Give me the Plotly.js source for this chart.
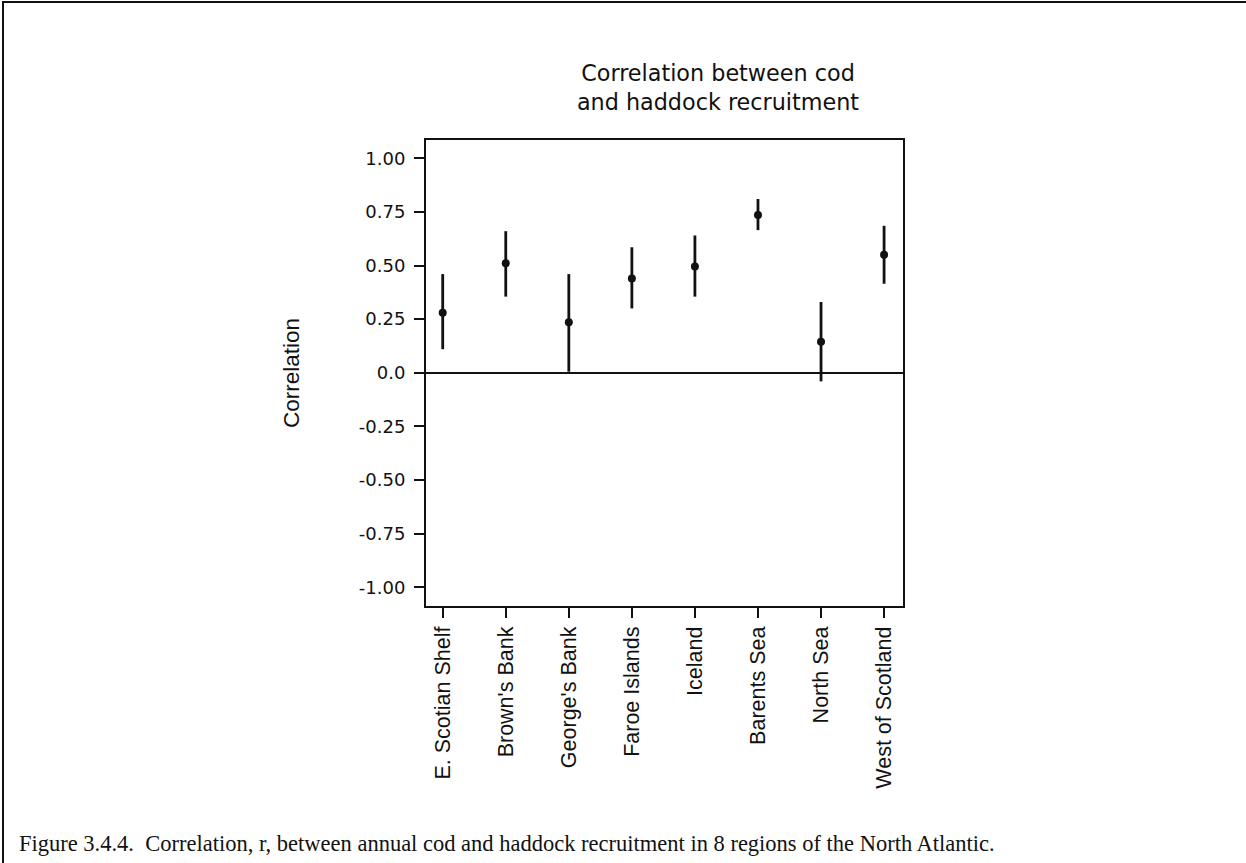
<!DOCTYPE html>
<html>
<head>
<meta charset="utf-8">
<script src="https://cdn.plot.ly/plotly-3.0.1.min.js"></script>
<style>
  html, body { margin: 0; padding: 0; background: #fff; }
  #wrap { position: relative; width: 1246px; height: 863px; }
  #chart { width: 1246px; height: 863px; }
  #frame { position: absolute; left: 2px; top: 1px; width: 1250px; height: 870px;
           border-top: 2px solid #111; border-left: 2px solid #111; pointer-events: none; }
</style>
</head>
<body>
<div id="wrap">
  <div id="chart"></div>
  <div id="frame"></div>
</div>
<script>
// Regions (categories)
const regions = ["E. Scotian Shelf", "Brown's Bank", "George's Bank", "Faroe Islands",
                 "Iceland", "Barents Sea", "North Sea", "West of Scotland"];
// Correlation r (point estimate)
const rValues = [0.28, 0.51, 0.235, 0.44, 0.495, 0.735, 0.145, 0.55];
// Upper and lower ends of the interval bars
const upperValues = [0.46, 0.66, 0.46, 0.585, 0.64, 0.81, 0.33, 0.685];
const lowerValues = [0.11, 0.355, 0.005, 0.30, 0.355, 0.665, -0.04, 0.415];
// Y tick labels
const yTickVals = [1.0, 0.75, 0.5, 0.25, 0.0, -0.25, -0.5, -0.75, -1.0];
const yTickText = ["1.00", "0.75", "0.50", "0.25", "0.0", "-0.25", "-0.50", "-0.75", "-1.00"];

const titleText = "Correlation between cod<br>and haddock recruitment";
const yTitleText = "Correlation";
const captionText = "Figure 3.4.4.  Correlation, r, between annual cod and haddock recruitment in 8 regions of the North Atlantic.";

const errPlus = upperValues.map((u, i) => u - rValues[i]);
const errMinus = lowerValues.map((l, i) => rValues[i] - l);

const W = 1246, H = 863;
const M = { l: 426, r: 343, t: 140, b: 257 };
const pw = W - M.l - M.r, ph = H - M.t - M.b;
const px2x = px => (px - M.l) / pw;
const py2y = py => (H - M.b - py) / ph;

const trace = {
  type: 'scatter',
  mode: 'markers',
  x: regions,
  y: rValues,
  marker: { color: '#111', size: 8, line: { width: 0 } },
  error_y: {
    type: 'data', symmetric: false,
    array: errPlus, arrayminus: errMinus,
    color: '#111', thickness: 2.8, width: 0
  },
  hoverinfo: 'x+y'
};

const layout = {
  width: W, height: H,
  margin: M,
  paper_bgcolor: '#fff', plot_bgcolor: '#fff',
  showlegend: false,
  title: {
    text: titleText,
    font: { family: 'DejaVu Sans, sans-serif', size: 22.3, color: '#111' },
    xref: 'container', x: 718 / W, xanchor: 'center',
    yref: 'container', y: 1 - 81 / H, yanchor: 'middle'
  },
  xaxis: {
    type: 'category',
    range: [-0.265, 7.3],
    showgrid: false, zeroline: false,
    showline: true, linecolor: '#111', linewidth: 2, mirror: true,
    ticks: 'outside', ticklen: 10, tickwidth: 2, tickcolor: '#111',
    tickangle: -90,
    tickfont: { family: 'Liberation Sans, Arial, sans-serif', size: 21.5, color: '#111' },
    ticklabelstandoff: 0
  },
  yaxis: {
    range: [-1.087, 1.085],
    showgrid: false,
    zeroline: true, zerolinecolor: '#111', zerolinewidth: 2,
    showline: true, linecolor: '#111', linewidth: 2, mirror: true,
    ticks: 'outside', ticklen: 10, tickwidth: 2, tickcolor: '#111',
    tickmode: 'array', tickvals: yTickVals, ticktext: yTickText,
    tickfont: { family: 'DejaVu Sans, sans-serif', size: 18, color: '#111' },
    ticklabelstandoff: 5,
    title: {
      text: yTitleText,
      font: { family: 'Liberation Sans, Arial, sans-serif', size: 22.5, color: '#111' },
      standoff: 53
    }
  },
  annotations: [{
    text: captionText,
    xref: 'paper', yref: 'paper',
    x: px2x(17), y: py2y(843),
    xanchor: 'left', yanchor: 'middle',
    showarrow: false,
    font: { family: 'Liberation Serif, Times New Roman, serif', size: 22.5, color: '#111' }
  }]
};

Plotly.newPlot('chart', [trace], layout, { displayModeBar: false, staticPlot: true });
</script>
</body>
</html>
